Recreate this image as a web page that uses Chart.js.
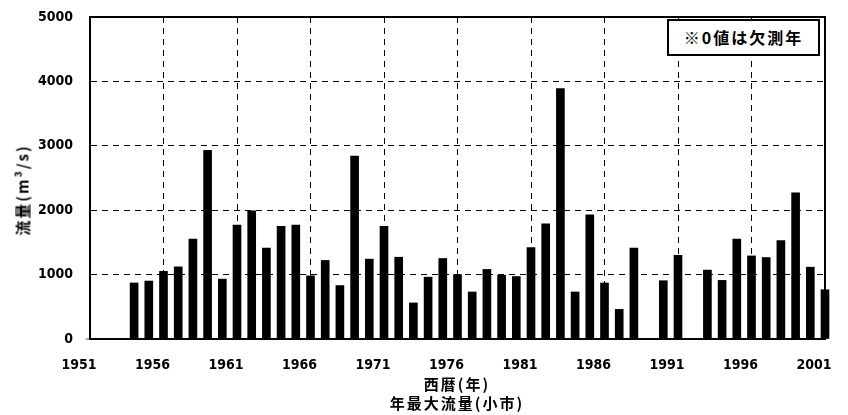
<!DOCTYPE html>
<html>
<head>
<meta charset="utf-8">
<script src="https://cdn.jsdelivr.net/npm/chart.js@4"></script>
<style>
  html, body { margin: 0; padding: 0; background: #fff; }
  #wrap { position: relative; width: 848px; height: 415px; }
  .lbl { position: absolute; color: #000; font-weight: bold; font-family: 'Noto Sans CJK JP', sans-serif; white-space: nowrap; }
  #note {
    left: 667px; top: 19px; width: 149px; height: 33px;
    border: 2px solid #000; background: #fff;
    font-size: 16px; letter-spacing: 2px;
    line-height: 33px; text-align: center;
  }
  #ytitle {
    left: 22px; top: 190px; font-size: 15px; letter-spacing: 2px;
    transform: translate(-50%, -50%) rotate(-90deg);
  }
  #xtitle1 { left: 457px; top: 383px; font-size: 15px; letter-spacing: 2px; transform: translate(-50%, -50%); line-height: 17px; }
  #xtitle2 { left: 457px; top: 402px; font-size: 15px; letter-spacing: 2px; transform: translate(-50%, -50%); line-height: 17px; }
</style>
</head>
<body>
<div id="wrap">
  <canvas id="myChart" width="848" height="415"></canvas>
  <div id="note" class="lbl">※0値は欠測年</div>
  <div id="ytitle" class="lbl">流量(m³/s)</div>
  <div id="xtitle1" class="lbl">西暦(年)</div>
  <div id="xtitle2" class="lbl">年最大流量(小市)</div>
</div>
<script>
// 年 (西暦)
const years = [1951, 1952, 1953, 1954, 1955, 1956, 1957, 1958, 1959, 1960,
    1961, 1962, 1963, 1964, 1965, 1966, 1967, 1968, 1969, 1970,
    1971, 1972, 1973, 1974, 1975, 1976, 1977, 1978, 1979, 1980,
    1981, 1982, 1983, 1984, 1985, 1986, 1987, 1988, 1989, 1990,
    1991, 1992, 1993, 1994, 1995, 1996, 1997, 1998, 1999, 2000, 2001];
// 年最大流量 (m3/s), 0 = 欠測年
const flows = [0, 0, 0, 870, 900, 1050, 1120, 1550, 2930, 930,
    1770, 1990, 1410, 1750, 1770, 980, 1220, 830, 2840, 1240,
    1750, 1270, 560, 960, 1250, 1000, 730, 1080, 990, 970,
    1420, 1790, 3890, 730, 1930, 870, 460, 1410, 0, 905,
    1300, 0, 1070, 910, 1550, 1290, 1265, 1530, 2270, 1115, 765];
const xTickLabels = ['1951', '1956', '1961', '1966', '1971', '1976', '1981', '1986', '1991', '1996', '2001'];
const yTicks = [0, 1000, 2000, 3000, 4000, 5000];

const fontFam = "'Liberation Sans Narrow', 'DejaVu Sans Condensed', 'Liberation Sans', sans-serif";

// 外枠
const frame = {
    id: 'frame',
    afterDatasetsDraw(chart) {
        const a = chart.chartArea;
        const c = chart.ctx;
        c.save();
        c.strokeStyle = '#000';
        c.lineWidth = 2;
        c.strokeRect(a.left, a.top, a.right - a.left, a.bottom - a.top);
        c.restore();
    }
};

const ctx = document.getElementById('myChart');

new Chart(ctx, {
    type: 'bar',
    data: {
        datasets: [{
            data: years.map((y, i) => ({ x: y, y: flows[i] })),
            backgroundColor: '#000',
            borderWidth: 0,
            barThickness: 8,
            clip: false
        }]
    },
    options: {
        responsive: false,
        animation: false,
        layout: { padding: { left: 0, right: 23, top: 17, bottom: 0 } },
        plugins: { legend: { display: false }, tooltip: { enabled: false } },
        scales: {
            x: {
                type: 'linear',
                min: 1951,
                max: 2001,
                offset: false,
                afterBuildTicks(scale) {
                    scale.ticks = xTickLabels.map(t => ({ value: Number(t) }));
                },
                afterFit(scale) {
                    scale.height = 76;
                    scale.paddingLeft = 0;
                    scale.paddingRight = 0;
                },
                ticks: {
                    color: '#000',
                    padding: 18,
                    labelOffset: -11,
                    maxRotation: 0,
                    autoSkip: false,
                    font: { family: fontFam, size: 14, weight: 'bold' },
                    callback: (v) => String(v)
                },
                grid: { color: '#000', lineWidth: 1, drawTicks: false, offset: false },
                border: { color: '#000', width: 2, dash: [6, 5] }
            },
            y: {
                min: 0,
                max: 5000,
                afterBuildTicks(scale) {
                    scale.ticks = yTicks.map(v => ({ value: v }));
                },
                afterFit(scale) {
                    scale.width = 90;
                    scale.paddingTop = 0;
                    scale.paddingBottom = 0;
                },
                ticks: {
                    color: '#000',
                    padding: 17,
                    font: { family: fontFam, size: 14, weight: 'bold' },
                    callback: (v) => String(v)
                },
                grid: { color: '#000', lineWidth: 1, drawTicks: false },
                border: { color: '#000', width: 2, dash: [6, 5] }
            }
        }
    },
    plugins: [frame]
});
</script>
</body>
</html>
